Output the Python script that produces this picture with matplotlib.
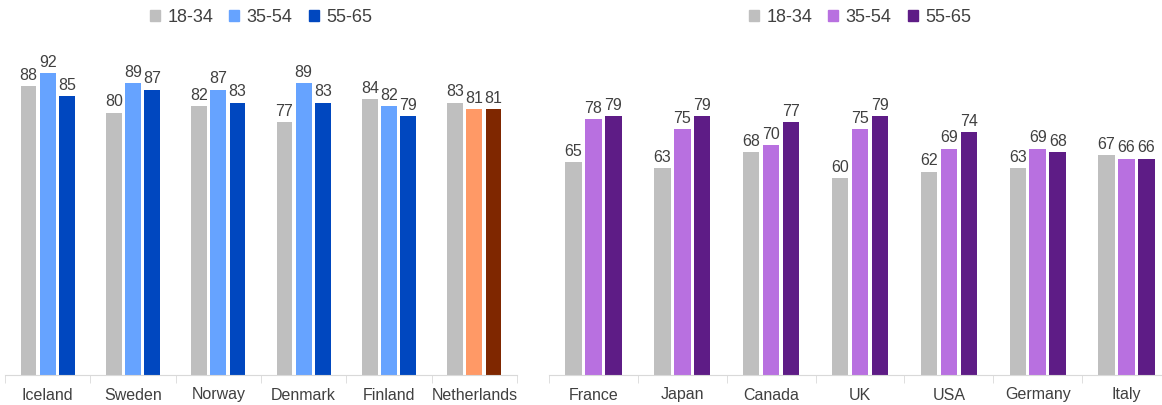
import matplotlib.pyplot as plt
import numpy as np

plt.rcParams['font.family'] = ['Liberation Sans', 'DejaVu Sans']

groups = ["18-34", "35-54", "55-65"]

left_countries = ["Iceland", "Sweden", "Norway", "Denmark", "Finland", "Netherlands"]
left_young = [88, 80, 82, 77, 84, 83]
left_mid = [92, 89, 87, 89, 82, 81]
left_old = [85, 87, 83, 83, 79, 81]

right_countries = ["France", "Japan", "Canada", "UK", "USA", "Germany", "Italy"]
right_young = [65, 63, 68, 60, 62, 63, 67]
right_mid = [78, 75, 70, 75, 69, 69, 66]
right_old = [79, 79, 77, 79, 74, 68, 66]

GRAY = "#BFBFBF"
TXT = "#404040"


def draw_panel(ax, countries, series, colors, special=None):
    x = np.arange(len(countries))
    width = 0.185
    offs = [-0.225, 0.0, 0.225]
    for i, vals in enumerate(series):
        cols = [colors[i]] * len(countries)
        if special is not None:
            idx, spec_cols = special
            cols[idx] = spec_cols[i]
        bars = ax.bar(x + offs[i], vals, width, color=cols, label=groups[i])
        for b, v in zip(bars, vals):
            ax.text(b.get_x() + b.get_width() / 2, v + 1.0, str(v),
                    ha="center", va="bottom", fontsize=11.5, color=TXT)
    ax.set_xlim(-0.5, len(countries) - 0.5)
    ax.set_ylim(0, 100)
    for s in ["top", "right", "left"]:
        ax.spines[s].set_visible(False)
    ax.spines["bottom"].set_color("#D9D9D9")
    ax.set_yticks([])
    ax.set_xticks(x)
    ax.set_xticklabels(countries, fontsize=11.5, color=TXT)
    ax.tick_params(axis="x", which="major", length=0, pad=9)
    ax.set_xticks(np.arange(len(countries) + 1) - 0.5, minor=True)
    ax.tick_params(axis="x", which="minor", length=6, color="#D9D9D9")
    handles = [plt.Rectangle((0, 0), 1, 1, color=c) for c in colors]
    ax.legend(handles, groups, loc="center", bbox_to_anchor=(0.5, 1.09),
              ncol=3, frameon=False, fontsize=13, handlelength=0.55,
              handleheight=0.55, handletextpad=0.4, columnspacing=0.9,
              labelcolor=TXT)


fig = plt.figure(figsize=(11.62, 4.05), dpi=100)
ax1 = fig.add_axes([5 / 1162, 30 / 405, 512 / 1162, 328 / 405])
ax2 = fig.add_axes([549 / 1162, 30 / 405, 622 / 1162, 328 / 405])

blues = [GRAY, "#66A3FF", "#0047BF"]
draw_panel(ax1, left_countries, [left_young, left_mid, left_old], blues,
           special=(5, [GRAY, "#FF9966", "#7F2700"]))

purples = [GRAY, "#B870E0", "#5E1C86"]
draw_panel(ax2, right_countries, [right_young, right_mid, right_old], purples)

fig.savefig("out.png", dpi=100)
